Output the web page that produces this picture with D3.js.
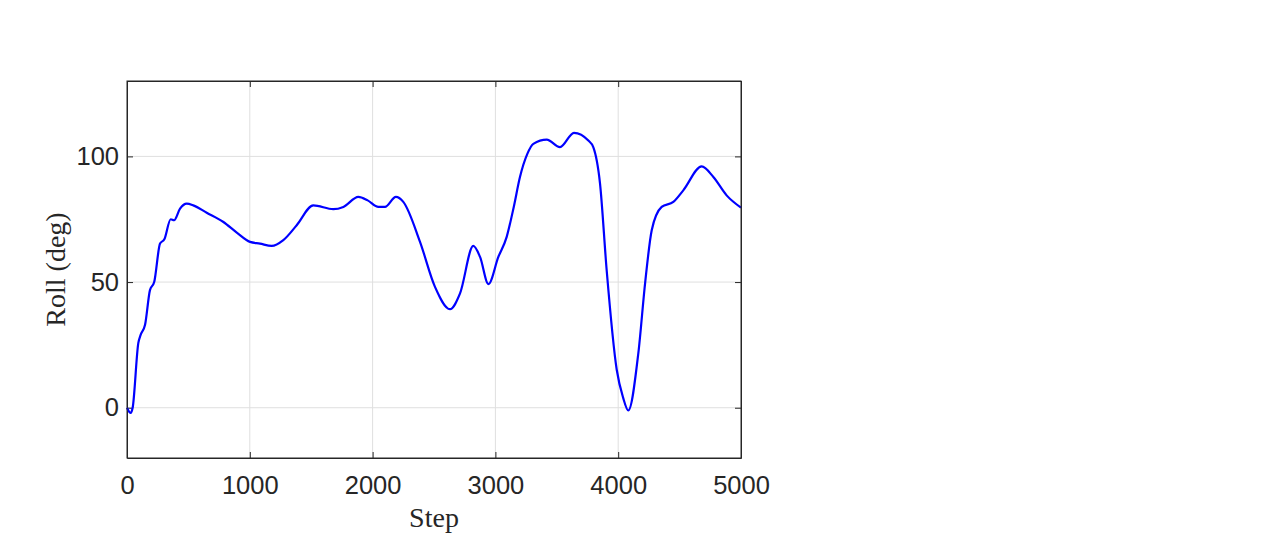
<!DOCTYPE html>
<html>
<head>
<meta charset="utf-8">
<script src="https://cdn.jsdelivr.net/npm/d3@7"></script>
<style>
  body { margin: 0; background: #fff; }
  .tick text { font-family: "Liberation Sans", Arial, sans-serif; font-size: 25.5px; fill: #262626; }
  .label { font-family: "Liberation Serif", "Times New Roman", serif; font-size: 28px; fill: #262626; }
</style>
</head>
<body>
<script>
// data
var steps = [0, 30, 46, 92, 111, 147, 187, 222, 269, 304, 356, 383, 432, 486, 540, 649, 785, 894, 1002, 1083, 1178, 1273, 1382, 1517, 1680, 1762, 1884, 1960, 2047, 2101, 2190, 2250, 2386, 2508, 2630, 2712, 2820, 2875, 2943, 3024, 3092, 3150, 3200, 3260, 3309, 3418, 3526, 3640, 3757, 3797, 3852, 3906, 3988, 4040, 4082, 4164, 4220, 4273, 4354, 4449, 4530, 4680, 4775, 4883, 5000];
var roll = [0, -2.1, 0, 25.7, 29, 33, 46.8, 50.1, 65.3, 67, 75, 74.6, 79.2, 81.2, 80.5, 77.6, 73.9, 69.7, 66, 65.3, 64.4, 66.7, 72.6, 80.5, 79, 79.9, 83.9, 82.5, 79.9, 79.9, 83.9, 81.9, 66, 48.1, 39.2, 45.5, 64.4, 60, 49.2, 60, 68, 80, 91.8, 101, 105, 106.7, 103.7, 109.4, 106.3, 103.7, 89.2, 54.8, 15.1, 4, -1.1, 21.7, 50, 70.6, 79.9, 81.9, 86.5, 96, 91.8, 84.5, 79.6];
var xTicks = [0, 1000, 2000, 3000, 4000, 5000];
var yTicks = [0, 50, 100];

//frame of the axes box
var width = 1280, height = 540;
var boxLeft = 127, boxRight = 741, boxTop = 81, boxBottom = 458;

var svg = d3.select("body").append("svg")
    .attr("width", width)
    .attr("height", height);

var x = d3.scaleLinear().domain([0, 5000]).range([boxLeft, boxRight]);
var y = d3.scaleLinear().domain([-20, 130]).range([boxBottom, boxTop]);

//grid lines
svg.append("g").selectAll("line")
    .data(xTicks.slice(1, -1))
    .enter().append("line")
    .attr("x1", function(d){ return x(d); })
    .attr("x2", function(d){ return x(d); })
    .attr("y1", boxTop).attr("y2", boxBottom)
    .attr("stroke", "#dfdfdf").attr("stroke-width", 1);
svg.append("g").selectAll("line")
    .data(yTicks)
    .enter().append("line")
    .attr("x1", boxLeft).attr("x2", boxRight)
    .attr("y1", function(d){ return y(d); })
    .attr("y2", function(d){ return y(d); })
    .attr("stroke", "#dfdfdf").attr("stroke-width", 1);

//axes, ticks pointing inward on all four sides
var fmt = d3.format("d");
svg.append("g")
    .attr("transform", "translate(0," + boxBottom + ")")
    .call(d3.axisBottom(x).tickValues(xTicks).tickFormat(fmt).tickSizeInner(-6).tickSizeOuter(0).tickPadding(18));
svg.append("g")
    .attr("transform", "translate(0," + boxTop + ")")
    .call(d3.axisTop(x).tickValues(xTicks).tickSizeInner(-6).tickSizeOuter(0).tickFormat(""));
svg.append("g")
    .attr("transform", "translate(" + boxLeft + ",0)")
    .call(d3.axisLeft(y).tickValues(yTicks).tickFormat(fmt).tickSizeInner(-6).tickSizeOuter(0).tickPadding(8));
svg.append("g")
    .attr("transform", "translate(" + boxRight + ",0)")
    .call(d3.axisRight(y).tickValues(yTicks).tickSizeInner(-6).tickSizeOuter(0).tickFormat(""));

svg.selectAll(".domain").attr("stroke", "#262626");
svg.selectAll(".tick line").attr("stroke", "#262626");

//the roll line
var line = d3.line()
    .x(function(d, i){ return x(steps[i]); })
    .y(function(d){ return y(d); })
    .curve(d3.curveMonotoneX);

svg.append("path")
    .datum(roll)
    .attr("d", line)
    .attr("fill", "none")
    .attr("stroke", "#0000ff")
    .attr("stroke-width", 2.2);

//box frame
svg.append("rect")
    .attr("x", boxLeft).attr("y", boxTop)
    .attr("width", boxRight - boxLeft).attr("height", boxBottom - boxTop)
    .attr("fill", "none").attr("stroke", "#262626").attr("stroke-width", 1);

//axis labels
svg.append("text")
    .attr("class", "label")
    .attr("x", (boxLeft + boxRight) / 2)
    .attr("y", 527)
    .attr("text-anchor", "middle")
    .text("Step");
svg.append("text")
    .attr("class", "label")
    .attr("transform", "translate(65," + (boxTop + boxBottom) / 2 + ") rotate(-90)")
    .attr("text-anchor", "middle")
    .text("Roll (deg)");
</script>
</body>
</html>
